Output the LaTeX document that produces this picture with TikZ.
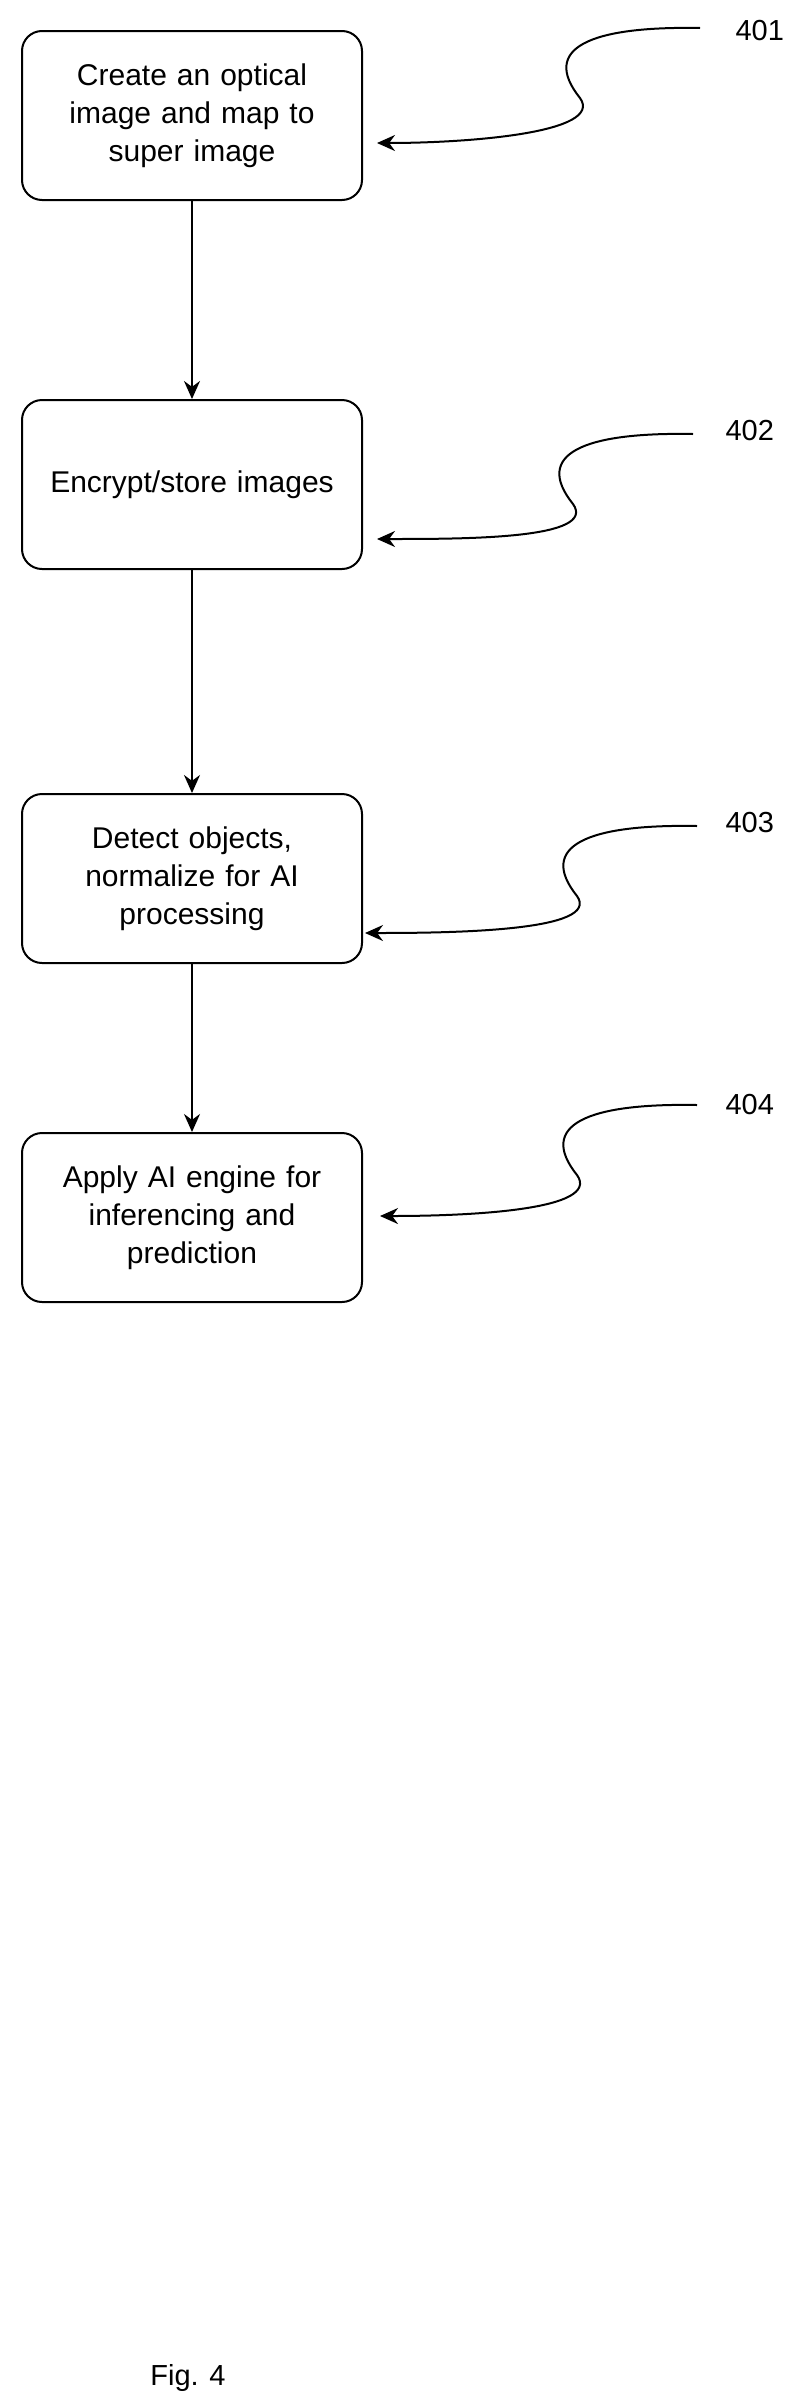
\documentclass[tikz,border=0pt]{standalone}
\usepackage{fontspec}
\setmainfont{Liberation Sans}
\usetikzlibrary{arrows.meta,calc}
\begin{document}
\begin{tikzpicture}[x=1pt,y=1pt,
  box/.style={draw, line width=2pt, rounded corners=20pt, minimum width=340pt, minimum height=169pt, align=center, text width=320pt, font=\fontsize{30}{38}\selectfont},
  lab/.style={font=\fontsize{29}{34}\selectfont, anchor=west},
  conn/.style={line width=2pt, -{Stealth[length=18pt,width=16pt]}}]
\useasboundingbox (0,0) rectangle (811,-2401);
\node[box] (b1) at (192,-115.5) {Create an optical\\image and map to\\super image};
\node[box] (b2) at (192,-484.5) {Encrypt/store images};
\node[box] (b3) at (192,-878.5) {Detect objects,\\normalize for AI\\processing};
\node[box] (b4) at (192,-1217.5) {Apply AI engine for\\inferencing and\\prediction};
\draw[conn] (b1) -- (b2);
\draw[conn] (b2) -- (b3);
\draw[conn] (b3) -- (b4);
\node[lab] (l1) at (732,-31) {401};
\node[lab] (l2) at (722,-431) {402};
\node[lab] (l3) at (722,-823) {403};
\node[lab] (l4) at (722,-1105) {404};
\node[lab, anchor=center] (fig) at (188,-2378) {Fig. 4};
\foreach \i/\sx/\sy/\ex/\ey in {1/700/-28/377/-143, 2/693/-434/377/-539, 3/697/-826/365/-933, 4/697/-1105/380/-1216}{
  \coordinate (s\i) at (\sx,\sy);
  \coordinate (e\i) at (\ex,\ey);
  \draw[conn] (s\i) .. controls ($(s\i)+(-110,2)$) and ($(s\i)+(-160,-20)$) .. ($(s\i)+(-120,-70)$)
     .. controls ($(s\i)+(-95,-105)$) and ($(e\i)+(90,0)$) .. (e\i);
}
\end{tikzpicture}
\end{document}
